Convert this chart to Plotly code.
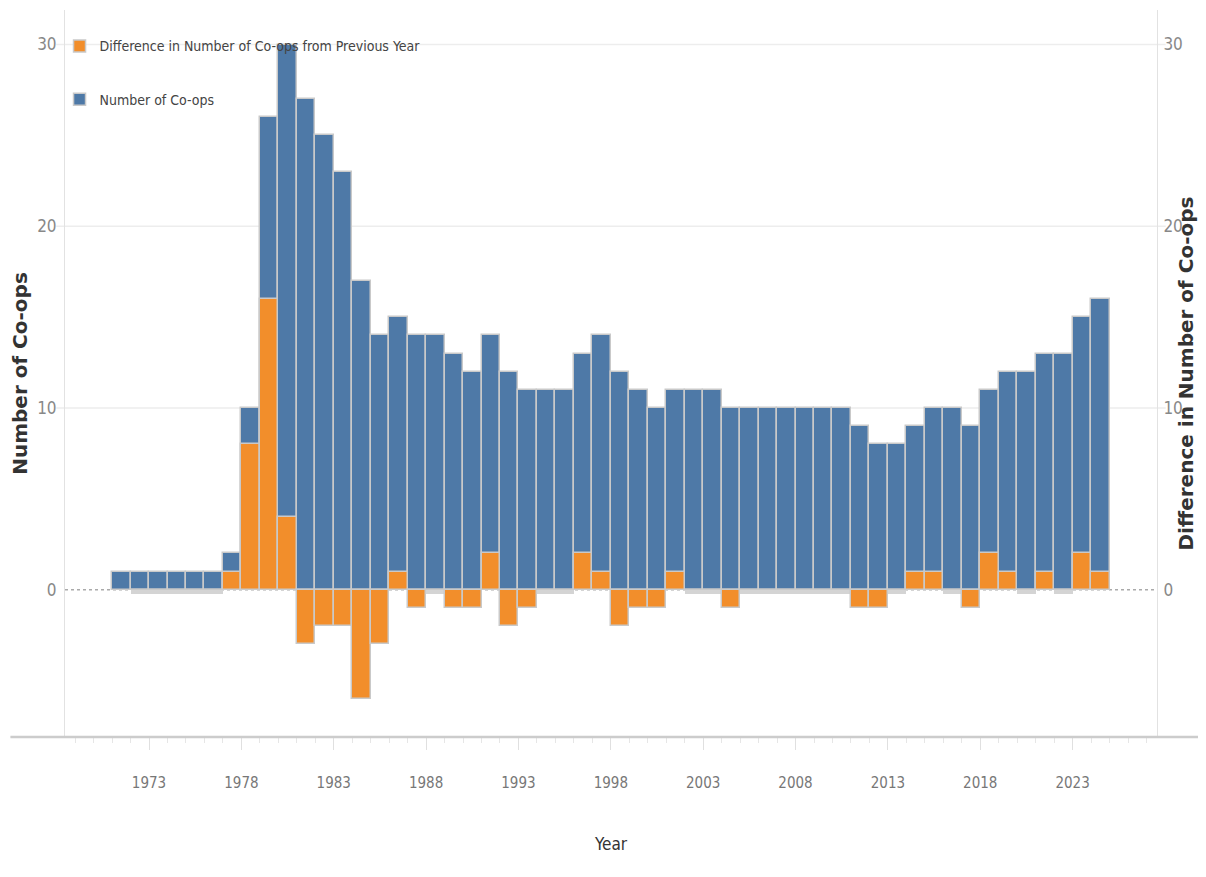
import plotly.graph_objects as go

years = list(range(1971, 2025))
num_coops = [1, 1, 1, 1, 1, 1, 2, 10, 26, 30,
             27, 25, 23, 17, 14, 15, 14, 14, 13, 12,
             14, 12, 11, 11, 11, 13, 14, 12, 11, 10,
             11, 11, 11, 10, 10, 10, 10, 10, 10, 10,
             9, 8, 8, 9, 10, 10, 9, 11, 12, 12,
             13, 13, 15, 16]
diff_prev = [None, 0, 0, 0, 0, 0, 1, 8, 16, 4,
             -3, -2, -2, -6, -3, 1, -1, 0, -1, -1,
             2, -2, -1, 0, 0, 2, 1, -2, -1, -1,
             1, 0, 0, -1, 0, 0, 0, 0, 0, 0,
             -1, -1, 0, 1, 1, 0, -1, 2, 1, 0,
             1, 0, 2, 1]
x_ticks = [1973, 1978, 1983, 1988, 1993, 1998, 2003, 2008, 2013, 2018, 2023]
y_ticks = [0, 10, 20, 30]

BLUE = "#4e79a7"
ORANGE = "#f28e2b"
OUTLINE = "#c9c9c9"
NARROW = "Liberation Sans Narrow, DejaVu Sans Condensed, Arial Narrow, sans-serif"
WIDE = "DejaVu Sans, Verdana, sans-serif"

# zero-difference years drawn as a thin grey band (as in the original)
zero_years = [y for y, d in zip(years, diff_prev) if d == 0]
zero_vals = [-0.22 for _ in zero_years]

fig = go.Figure()
fig.add_trace(go.Bar(
    x=years, y=num_coops, name="Number of Co-ops", yaxis="y",
    offset=0, width=1, legendgroup="b",
    marker=dict(color=BLUE, line=dict(color=OUTLINE, width=1.5)),
    legendrank=2,
))
fig.add_trace(go.Bar(
    x=zero_years, y=zero_vals, yaxis="y2", showlegend=False, hoverinfo="skip",
    offset=0, width=1,
    marker=dict(color="#d4d4d4", line=dict(width=0)),
))
fig.add_trace(go.Bar(
    x=years, y=diff_prev, name="Difference in Number of Co-ops from Previous Year",
    yaxis="y2", offset=0, width=1, legendgroup="a",
    marker=dict(color=ORANGE, line=dict(color=OUTLINE, width=1.5)),
    legendrank=1,
))

yrange = [-8.1, 31.9]
shapes = [
    dict(type="line", xref="paper", yref="y", x0=-0.008, x1=1.008, y0=t, y1=t,
         line=dict(color="#ededed", width=1.5), layer="below")
    for t in y_ticks if t != 0
]
shapes += [
    dict(type="line", xref="paper", yref="y", x0=0, x1=1, y0=0, y1=0,
         line=dict(color="#aaaaaa", width=1.5, dash="dot"), layer="below"),
    dict(type="line", xref="paper", yref="paper", x0=-0.05, x1=1.04, y0=0, y1=0,
         line=dict(color="#cccccc", width=2.5), layer="above"),
]

fig.update_layout(
    width=1190, height=861,
    margin=dict(l=57, r=41, t=2, b=132),
    paper_bgcolor="white", plot_bgcolor="white",
    barmode="overlay", bargap=0,
    showlegend=True,
    legend=dict(x=-0.005, y=0.972, xanchor="left", yanchor="top",
                font=dict(family=NARROW, size=14, color="#444"),
                bgcolor="rgba(0,0,0,0)", itemwidth=30,
                traceorder="grouped", tracegroupgap=32),
    xaxis=dict(
        range=[1968.45, 2027.57], tickmode="array", tickvals=x_ticks,
        ticktext=[str(t) for t in x_ticks],
        ticks="outside", ticklen=12, tickcolor="#e0e0e0", tickwidth=1,
        minor=dict(dtick=1, tick0=1971, ticks="outside", ticklen=5, tickcolor="#e6e6e6", showgrid=False),
        ticklabelstandoff=20,
        tickfont=dict(family=NARROW, size=15, color="#777"),
        showgrid=False, zeroline=False, showline=False, automargin=False,
        title=dict(text="Year", font=dict(family=NARROW, size=17, color="#333"), standoff=47),
    ),
    yaxis=dict(
        range=yrange, tickmode="array", tickvals=y_ticks,
        tickfont=dict(family=NARROW, size=17, color="#888"),
        showgrid=False, zeroline=False, showline=True, linecolor="#e2e2e2", linewidth=1,
        ticks="", ticklabelstandoff=4, automargin=False,
        title=dict(text="<b>Number of Co-ops</b>", font=dict(family=WIDE, size=20, color="#333"), standoff=4),
    ),
    yaxis2=dict(
        range=yrange, overlaying="y", side="right", tickmode="array", tickvals=y_ticks,
        tickfont=dict(family=NARROW, size=17, color="#888"),
        showgrid=False, zeroline=False, showline=True, linecolor="#e2e2e2", linewidth=1,
        ticks="", ticklabelstandoff=2, automargin=False,
        title=dict(text="<b>Difference in Number of Co-ops</b>", font=dict(family=WIDE, size=20, color="#333"), standoff=4),
    ),
    shapes=shapes,
)

fig.write_html("out.html")
